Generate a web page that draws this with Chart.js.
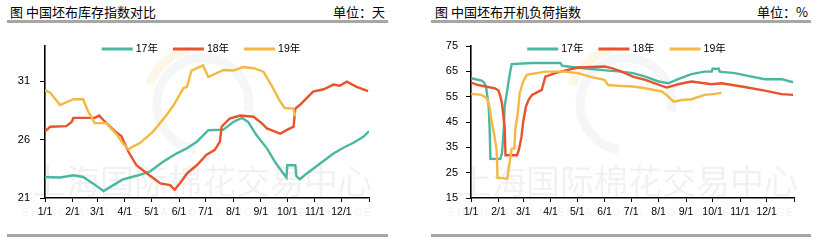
<!DOCTYPE html>
<html>
<head>
<meta charset="utf-8">
<script src="https://cdn.jsdelivr.net/npm/chart.js@4/dist/chart.umd.min.js"></script>
<style>
body { margin:0; background:#fff; width:816px; height:240px; position:relative; overflow:hidden; font-family:"Noto Sans CJK SC", sans-serif; }
.title { position:absolute; top:3px; font-size:13px; line-height:18px; color:#000; white-space:nowrap; }
.rule { position:absolute; height:3px; background:#a6a6a6; }
.box { position:absolute; top:0; width:408px; height:240px; }
</style>
</head>
<body>
<div class="title" style="left:10px">图 中国坯布库存指数对比</div>
<div class="title" style="right:431px">单位：天</div>
<div class="rule" style="left:7px; width:381px; top:20px"></div>
<div class="rule" style="left:7px; width:381px; top:234px"></div>

<div class="title" style="left:435px">图 中国坯布开机负荷指数</div>
<div class="title" style="right:8px">单位：%</div>
<div class="rule" style="left:431px; width:380px; top:20px"></div>
<div class="rule" style="left:431px; width:380px; top:234px"></div>

<div class="box" style="left:0"><canvas id="kucun"></canvas></div>
<div class="box" style="left:408px"><canvas id="fuhe"></canvas></div>

<script>
// x = day of year, 0 = 1/1
const monthDays = [0, 31, 59, 90, 120, 151, 181, 212, 243, 273, 304, 334, 365];
const monthLabels = ['1/1', '2/1', '3/1', '4/1', '5/1', '6/1', '7/1', '8/1', '9/1', '10/1', '11/1', '12/1'];
const seriesNames = ['17年', '18年', '19年'];
const seriesColors = ['#4ab8a1', '#e8532b', '#f4b843'];

// 坯布库存指数 (天)
const inv17Days = [0, 17, 32, 43, 54, 66, 77, 88, 103, 118, 133, 148, 160, 171, 184, 201, 212, 222, 229, 238, 250, 259, 267, 272, 273, 282, 283, 287, 295, 310, 325, 336, 347, 359, 365];
const inv17 = [22.8, 22.75, 22.95, 22.8, 22.25, 21.6, 22.1, 22.6, 22.9, 23.25, 24.1, 24.8, 25.25, 25.8, 26.8, 26.85, 27.5, 27.85, 27.5, 26.4, 25.25, 24.1, 23.25, 22.75, 23.8, 23.8, 22.9, 22.6, 23.1, 23.95, 24.8, 25.3, 25.7, 26.25, 26.7];
const inv18Days = [0, 6, 24, 30, 32, 56, 61, 66, 79, 86, 94, 103, 115, 130, 141, 146, 152, 160, 171, 182, 191, 197, 199, 208, 220, 235, 244, 250, 265, 272, 280, 282, 287, 302, 314, 325, 332, 340, 351, 364];
const inv18 = [26.7, 27.1, 27.15, 27.5, 27.85, 27.85, 28.05, 27.65, 26.7, 26.3, 24.95, 23.8, 23.1, 22.25, 22.1, 21.7, 22.25, 23.1, 23.8, 24.7, 25.1, 25.8, 27.1, 27.8, 28.05, 27.95, 27.4, 26.95, 26.5, 26.8, 27.1, 28.65, 28.95, 30.1, 30.3, 30.7, 30.6, 30.95, 30.5, 30.15];
const inv19Days = [0, 6, 17, 32, 43, 48, 56, 69, 81, 86, 94, 99, 107, 122, 137, 145, 156, 160, 165, 178, 184, 201, 212, 223, 235, 246, 255, 265, 270, 280, 282];
const inv19 = [30.2, 30.0, 28.95, 29.45, 29.45, 28.5, 27.4, 27.4, 26.4, 25.85, 25.15, 25.4, 25.7, 26.7, 28.1, 28.95, 30.4, 30.5, 31.9, 32.35, 31.35, 31.95, 31.9, 32.2, 32.1, 31.8, 30.65, 29.25, 28.7, 28.65, 28.0];

// 坯布开机负荷指数 (%)
const load17Days = [0, 12, 15, 17, 20, 21, 22, 33, 35, 37, 38, 41, 44, 46, 69, 101, 103, 114, 136, 155, 170, 183, 197, 212, 223, 234, 249, 264, 272, 273, 280, 281, 298, 313, 332, 351, 364];
const load17 = [62.3, 61.35, 60.5, 59.0, 51.0, 43.1, 30.5, 30.4, 32.5, 41.8, 51.0, 57.7, 64.3, 67.85, 68.3, 68.3, 67.2, 66.7, 65.9, 65.3, 64.9, 64.3, 62.9, 61.0, 60.3, 61.9, 63.9, 64.9, 64.9, 66.0, 66.0, 64.9, 64.3, 63.2, 61.9, 61.9, 60.7];
const load18Days = [0, 8, 27, 31, 33, 35, 38, 39, 52, 54, 57, 59, 62, 65, 69, 80, 84, 95, 106, 121, 151, 159, 170, 183, 197, 221, 234, 249, 272, 283, 306, 332, 351, 364];
const load18 = [60.55, 59.6, 58.3, 57.4, 55.3, 52.4, 43.1, 31.9, 31.9, 33.85, 39.1, 45.1, 51.0, 53.7, 55.7, 57.7, 62.9, 64.3, 65.3, 66.5, 66.9, 66.3, 64.9, 62.9, 61.6, 58.6, 59.9, 61.0, 59.9, 60.3, 59.0, 57.4, 56.0, 55.7];
const load19Days = [0, 12, 18, 21, 23, 26, 29, 30, 41, 44, 46, 49, 50, 53, 55, 59, 63, 84, 106, 121, 136, 151, 155, 170, 183, 197, 216, 223, 229, 238, 249, 264, 276, 283];
const load19 = [56.1, 55.7, 54.4, 51.0, 45.75, 40.5, 33.85, 23.0, 22.6, 29.9, 34.5, 34.5, 41.8, 49.0, 56.3, 61.0, 63.6, 64.9, 64.9, 64.3, 62.7, 61.6, 59.6, 59.2, 59.0, 58.3, 57.0, 55.0, 53.0, 53.7, 54.0, 55.7, 56.1, 56.6];

function pts(days, vals) {
    return days.map((d, i) => ({ x: d, y: vals[i] }));
}

function makeDatasets(list) {
    return list.map((s, i) => ({
        label: seriesNames[i],
        data: pts(s[0], s[1]),
        borderColor: seriesColors[i],
        backgroundColor: seriesColors[i],
        borderWidth: 2.4,
        pointRadius: 0,
        tension: 0,
        fill: false,
        order: 2 - i // 19年 drawn on top
    }));
}

// legend drawn inside the plot area, like the original
const insideLegend = {
    id: 'insideLegend',
    afterDraw(chart) {
        const ctx = chart.ctx;
        const area = chart.chartArea;
        ctx.save();
        ctx.font = '10.5px "Liberation Sans", "Noto Sans CJK SC"';
        ctx.textBaseline = 'middle';
        const lineW = 31, gap = 3, itemGap = 15;
        const items = chart.data.datasets.map(ds => ({
            text: ds.label, color: ds.borderColor,
            w: lineW + gap + ctx.measureText(ds.label).width
        }));
        const total = items.reduce((s, it) => s + it.w, 0) + itemGap * (items.length - 1);
        let x = (area.left + area.right) / 2 - 6 - total / 2;
        const y = area.top + 3;
        items.forEach(it => {
            ctx.strokeStyle = it.color;
            ctx.lineWidth = 3;
            ctx.beginPath();
            ctx.moveTo(x, y);
            ctx.lineTo(x + lineW, y);
            ctx.stroke();
            ctx.fillStyle = '#000';
            ctx.fillText(it.text, x + lineW + gap, y + 0.5);
            x += it.w + itemGap;
        });
        ctx.restore();
    }
};

// faint exchange watermark behind the lines
const watermark = {
    id: 'watermark',
    beforeDatasetsDraw(chart, args, opts) {
        const ctx = chart.ctx;
        ctx.save();
        ctx.lineWidth = 9;
        ctx.strokeStyle = 'rgba(245,190,70,0.13)';
        ctx.beginPath();
        ctx.arc(opts.cx, opts.cy, 50, Math.PI * 1.1, Math.PI * 1.45);
        ctx.stroke();
        ctx.strokeStyle = 'rgba(130,150,180,0.09)';
        ctx.beginPath();
        ctx.arc(opts.cx + 6, opts.cy + 4, 46, Math.PI * 0.55, Math.PI * 2.05);
        ctx.stroke();
        ctx.font = '34px "Noto Sans CJK SC"';
        ctx.fillStyle = 'rgba(0,0,0,0.055)';
        ctx.textBaseline = 'middle';
        ctx.fillText('上海国际棉花交易中心', opts.x, 181);
        ctx.font = '10px "Liberation Sans"';
        const en = 'SHANGHAI INTERNATIONAL COTTON EXCHANGE';
        const step = (opts.w - 8) / (en.length - 1);
        for (let i = 0; i < en.length; i++) {
            ctx.fillText(en[i], opts.x - 10 + i * step, 213);
        }
        ctx.restore();
    }
};

function makeChart(id, datasets, yMin, yMax, yTicks, left, right, labelPad, mark) {
    const ctx = document.getElementById(id).getContext('2d');
    return new Chart(ctx, {
        type: 'line',
        data: { datasets: datasets },
        plugins: [watermark, insideLegend],
        options: {
            responsive: true,
            maintainAspectRatio: false,
            animation: false,
            layout: { padding: { top: 46, right: 408 - right, bottom: 22, left: 0 } },
            scales: {
                x: {
                    type: 'linear',
                    min: 0,
                    max: 365,
                    afterBuildTicks: scale => { scale.ticks = monthDays.map(v => ({ value: v })); },
                    afterFit: scale => { scale.height = 20; },
                    grid: { drawOnChartArea: false, tickLength: 4, color: '#000', tickWidth: 1 },
                    border: { color: '#000', width: 1.6 },
                    ticks: {
                        autoSkip: false,
                        maxRotation: 0,
                        padding: 4,
                        color: '#000',
                        font: { family: '"Liberation Sans"', size: 10.5 },
                        callback: (v, i) => monthLabels[i] || ''
                    }
                },
                y: {
                    min: yMin,
                    max: yMax,
                    afterBuildTicks: scale => { scale.ticks = yTicks.map(v => ({ value: v })); },
                    afterFit: scale => { scale.width = left; },
                    grid: { drawOnChartArea: false, tickLength: 5, color: '#000', tickWidth: 1 },
                    border: { color: '#000', width: 1.6 },
                    ticks: {
                        padding: labelPad,
                        color: '#000',
                        font: { family: '"Liberation Sans"', size: 11 }
                    }
                }
            },
            plugins: {
                legend: { display: false },
                tooltip: { enabled: false },
                watermark: mark
            }
        }
    });
}

makeChart('kucun',
    makeDatasets([[inv17Days, inv17], [inv18Days, inv18], [inv19Days, inv19]]),
    21, 34, [21, 26, 31], 45, 369, 10,
    { x: 32, w: 350, cx: 197, cy: 100 });

makeChart('fuhe',
    makeDatasets([[load17Days, load17], [load18Days, load18], [load19Days, load19]]),
    15, 75, [15, 25, 35, 45, 55, 65, 75], 63, 386, 8,
    { x: 50, w: 346, cx: 212, cy: 100 });
</script>
</body>
</html>
